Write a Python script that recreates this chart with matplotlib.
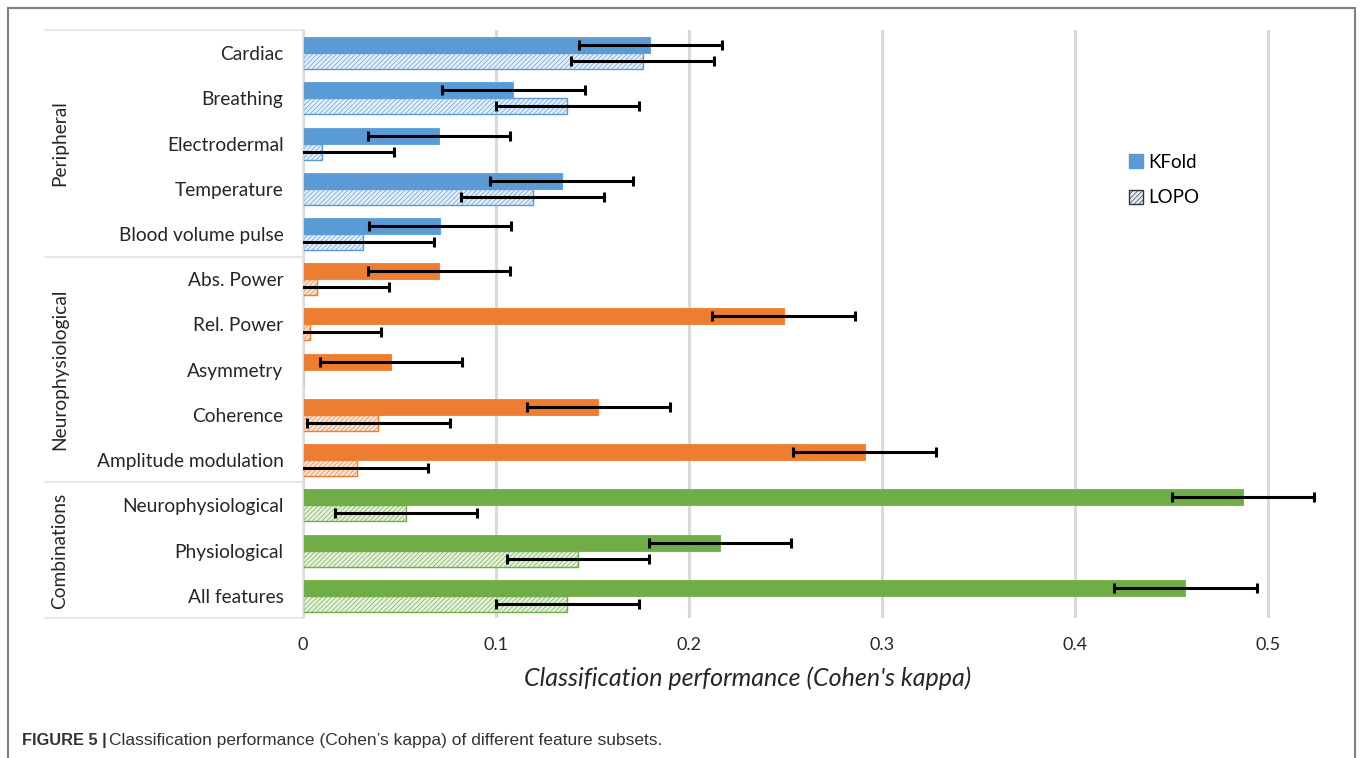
import numpy as np
import matplotlib

matplotlib.use("Agg")
import matplotlib.pyplot as plt
from matplotlib.patches import Patch, Rectangle

categories = ["Cardiac", "Breathing", "Electrodermal", "Temperature", "Blood volume pulse",
              "Abs. Power", "Rel. Power", "Asymmetry", "Coherence", "Amplitude modulation",
              "Neurophysiological", "Physiological", "All features"]
groups = ["Peripheral", "Neurophysiological", "Combinations"]
group_sizes = [5, 5, 3]

kfold = [0.180, 0.109, 0.0705, 0.134, 0.071,
         0.0705, 0.249, 0.0456, 0.153, 0.291,
         0.487, 0.216, 0.457]
kfold_err = [0.037, 0.037, 0.037, 0.037, 0.037,
             0.037, 0.037, 0.037, 0.037, 0.037,
             0.037, 0.037, 0.037]
lopo = [0.176, 0.137, 0.010, 0.119, 0.031,
        0.0073, 0.0036, 0.0, 0.039, 0.028,
        0.0534, 0.1425, 0.137]
lopo_err = [0.037, 0.037, 0.037, 0.037, 0.037,
            0.037, 0.037, np.nan, 0.037, 0.037,
            0.037, 0.037, 0.037]

SOLID = ["#5B9BD5"] * 5 + ["#ED7D31"] * 5 + ["#70AD47"] * 3
LIGHT = ["#E3EEF8"] * 5 + ["#FBE6D8"] * 5 + ["#E4F0DC"] * 3
GRID = "#D9D9D9"
INK = "#262626"
FONT = "Lato"

plt.rcParams["hatch.linewidth"] = 0.45

W, H = 1360, 758
fig = plt.figure(figsize=(W / 100, H / 100), dpi=100)
ax = fig.add_axes([303 / W, 1 - 618 / H, (1326 - 303) / W, (618 - 30) / H])

y = np.arange(len(categories))
bh = 0.354
ax.barh(y - bh / 2, kfold, height=bh, color=SOLID, edgecolor=SOLID, lw=0.6, zorder=2)
ax.barh(y + bh / 2, lopo, height=bh, color=LIGHT, edgecolor=SOLID, hatch="///////",
        lw=1.0, zorder=2)

ek = ~np.isnan(np.array(kfold_err))
ax.errorbar(np.array(kfold)[ek], (y - bh / 2)[ek], xerr=np.array(kfold_err)[ek], fmt="none",
            ecolor="black", elinewidth=2.2, capsize=3.5, capthick=2.2, zorder=3)
el = ~np.isnan(np.array(lopo_err))
ax.errorbar(np.array(lopo)[el], (y + bh / 2)[el], xerr=np.array(lopo_err)[el], fmt="none",
            ecolor="black", elinewidth=2.2, capsize=3.5, capthick=2.2, zorder=3)

ax.set_xlim(0, 0.53)
ax.set_ylim(len(categories) - 0.51, -0.51)
ax.set_xticks([0, 0.1, 0.2, 0.3, 0.4, 0.5])
ax.set_xticklabels(["0", "0.1", "0.2", "0.3", "0.4", "0.5"], fontsize=13, family=FONT, color=INK)
ax.set_yticks(y)
ax.set_yticklabels(categories, fontsize=13.8, family=FONT, color=INK)
ax.tick_params(axis="y", length=0, pad=14)
ax.tick_params(axis="x", length=0, pad=14)
ax.xaxis.grid(True, color=GRID, lw=2.2, zorder=0)
ax.set_axisbelow(True)
for s in ["top", "right", "bottom"]:
    ax.spines[s].set_visible(False)
ax.spines["left"].set_color("#E3E3E3")
ax.spines["left"].set_linewidth(1.2)

ax.set_xlabel("Classification performance (Cohen's kappa)", fontsize=18, style="italic",
              family=FONT, color=INK)
ax.xaxis.set_label_coords((748 - 303) / (1326 - 303), -(678 - 618) / (618 - 30))
ax.xaxis.label.set_va("center")

# category table lines and group labels (figure pixel coordinates)
def fx(px):
    return px / W


def fy(py):
    return 1 - py / H


for py in [30, 257, 482, 618]:
    fig.add_artist(plt.Line2D([fx(45), fx(303)], [fy(py), fy(py)], color="#E3E3E3", lw=1.2))

start = 0
for name, n in zip(groups, group_sizes):
    top = 53 + 45.25 * start - 22.6
    bot = 53 + 45.25 * (start + n - 1) + 22.6
    fig.text(fx(60), fy((top + bot) / 2), name, rotation=90, ha="center", va="center",
             fontsize=13.8, family=FONT, color=INK)
    start += n

# legend
handles = [Patch(facecolor="#5B9BD5", edgecolor="#5B9BD5", label="KFold"),
           Patch(facecolor="#E3EEF8", edgecolor="#333333", hatch="///////", label="LOPO")]
fig.legend(handles=handles, loc="center left", bbox_to_anchor=(fx(1112), fy(180)),
           frameon=False, handlelength=0.75, handleheight=0.75, handletextpad=0.3,
           labelspacing=1.0, prop={"family": FONT, "size": 13.5})

# outer frame and caption
fig.add_artist(Rectangle((fx(8), fy(800)), fx(1355) - fx(8), fy(8) - fy(800),
                         fill=False, ec="#7F7F7F", lw=1.5))
fig.text(fx(22), fy(740), "FIGURE 5 |", fontsize=11.8, fontweight="bold",
         family="Liberation Sans", color="#333333", va="center")
fig.text(fx(109), fy(740), "Classification performance (Cohen\u2019s kappa) of different feature subsets.",
         fontsize=12.5, family="Liberation Sans", color="#333333", va="center")

fig.savefig("out.png", dpi=100, facecolor="white")
